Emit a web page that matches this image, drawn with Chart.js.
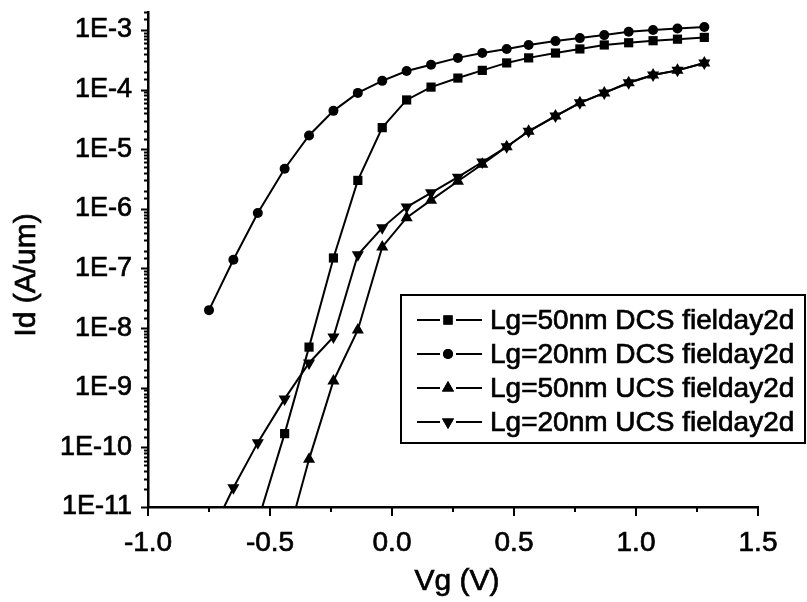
<!DOCTYPE html>
<html>
<head>
<meta charset="utf-8">
<title>Id-Vg</title>
<script src="https://cdn.jsdelivr.net/npm/chart.js@4/dist/chart.umd.min.js"></script>
<style>
  html, body { margin: 0; padding: 0; background: #fff; }
  #wrap { width: 807px; height: 602px; }
</style>
</head>
<body>
<div id="wrap"><canvas id="c" width="807" height="602"></canvas></div>
<script>
// Gate voltage sweep (V)
const vg = [-0.75, -0.65, -0.55, -0.44, -0.34, -0.24, -0.14, -0.04, 0.06, 0.16, 0.27,
            0.37, 0.47, 0.56, 0.67, 0.77, 0.87, 0.97, 1.07, 1.17, 1.28];

// Drain current (A/um); null = not simulated at that bias
const dcs50 = [null, null, 5.7e-12, 1.7e-10, 4.8e-9, 1.5e-7, 3.0e-6, 2.3e-5, 6.7e-5, 1.1e-4, 1.56e-4,
               2.1e-4, 2.8e-4, 3.4e-4, 4.1e-4, 4.8e-4, 5.6e-4, 6.1e-4, 6.6e-4, 7.0e-4, 7.5e-4];
const dcs20 = [2.0e-8, 1.4e-7, 8.5e-7, 4.7e-6, 1.7e-5, 4.4e-5, 8.8e-5, 1.4e-4, 2.05e-4, 2.6e-4, 3.4e-4,
               4.1e-4, 4.8e-4, 5.6e-4, 6.5e-4, 7.3e-4, 8.2e-4, 9.3e-4, 1.0e-3, 1.06e-3, 1.12e-3];
const ucs50 = [null, null, null, 2.0e-12, 6.3e-11, 1.3e-9, 9.3e-9, 2.3e-7, 7.1e-7, 1.4e-6, 2.9e-6,
               5.6e-6, 1.1e-5, 2.0e-5, 3.6e-5, 6.0e-5, 8.8e-5, 1.3e-4, 1.75e-4, 2.1e-4, 2.8e-4];
const ucs20 = [3.0e-12, 2.1e-11, 1.2e-10, 6.5e-10, 2.6e-9, 7.1e-9, 1.7e-7, 4.8e-7, 1.07e-6, 1.86e-6, 3.4e-6,
               6.1e-6, 1.1e-5, 2.0e-5, 3.6e-5, 6.0e-5, 8.8e-5, 1.3e-4, 1.75e-4, 2.1e-4, 2.8e-4];

const seriesNames = ['Lg=50nm DCS fielday2d', 'Lg=20nm DCS fielday2d',
                     'Lg=50nm UCS fielday2d', 'Lg=20nm UCS fielday2d'];

const xLabelTicks = [-1.0, -0.5, 0.0, 0.5, 1.0, 1.5];
const xTitle = 'Vg (V)';
const yTitle = 'Id (A/um)';

const FONT = '"Liberation Sans", Arial, Helvetica, sans-serif';
const TEXT_STROKE = 0.7;

function toPoints(ys) {
  return vg.map((x, i) => ({ x: x, y: ys[i] })).filter(p => p.y !== null);
}

function series(label, ys, style, radius, rotation) {
  return {
    label: label,
    data: toPoints(ys),
    borderColor: '#000',
    borderWidth: 2,
    backgroundColor: '#000',
    pointBackgroundColor: '#000',
    pointBorderWidth: 0,
    pointStyle: style,
    pointRadius: radius,
    pointHoverRadius: radius,
    pointRotation: rotation,
    tension: 0,
    fill: false
  };
}

function isDecade(v) {
  const e = Math.round(Math.log10(v));
  return Math.abs(v / Math.pow(10, e) - 1) < 1e-6;
}

function heavyText(ctx, text, x, y) {
  ctx.fillText(text, x, y);
  ctx.lineWidth = TEXT_STROKE;
  ctx.strokeText(text, x, y);
}

// Outward tick marks (major and minor), axis titles and the boxed legend
const decorations = {
  id: 'decorations',
  afterDraw(chart) {
    const ctx = chart.ctx;
    const area = chart.chartArea;
    const xs = chart.scales.x;
    const ys = chart.scales.y;
    ctx.save();
    ctx.strokeStyle = '#000';
    ctx.lineWidth = 2;
    ctx.lineCap = 'butt';

    ys.ticks.forEach(t => {
      const py = Math.round(ys.getPixelForValue(t.value)) + 0.5;
      const len = isDecade(t.value) ? 7 : 4;
      ctx.beginPath();
      ctx.moveTo(area.left - len, py);
      ctx.lineTo(area.left, py);
      ctx.stroke();
    });
    xs.ticks.forEach(t => {
      const px = Math.round(xs.getPixelForValue(t.value));
      const major = xLabelTicks.some(v => Math.abs(v - t.value) < 1e-9);
      const len = major ? 9 : 5;
      ctx.beginPath();
      ctx.moveTo(px, area.bottom);
      ctx.lineTo(px, area.bottom + len);
      ctx.stroke();
    });

    // axis titles
    ctx.fillStyle = '#000';
    ctx.font = '30px ' + FONT;
    ctx.textAlign = 'center';
    ctx.textBaseline = 'middle';
    heavyText(ctx, xTitle, 457, 582);
    ctx.save();
    ctx.translate(27, 275);
    ctx.rotate(-Math.PI / 2);
    heavyText(ctx, yTitle, 0, 0);
    ctx.restore();

    // legend
    const box = { x: 401, y: 295, w: 404, h: 148 };
    ctx.fillStyle = '#fff';
    ctx.fillRect(box.x, box.y, box.w, box.h);
    ctx.lineWidth = 2;
    ctx.strokeRect(box.x, box.y, box.w, box.h);
    const rows = [320, 354, 388, 422];
    chart.data.datasets.forEach((ds, i) => {
      const y = rows[i];
      const mx = 448;
      ctx.lineWidth = 2;
      ctx.beginPath();
      ctx.moveTo(417, y); ctx.lineTo(mx - 8, y);
      ctx.moveTo(mx + 8, y); ctx.lineTo(482, y);
      ctx.stroke();
      ctx.fillStyle = '#000';
      Chart.helpers.drawPoint(ctx, {
        pointStyle: ds.pointStyle,
        radius: ds.pointRadius,
        rotation: ds.pointRotation,
        borderWidth: 0
      }, mx, y);
      ctx.fill();
      ctx.font = '28px ' + FONT;
      ctx.textAlign = 'left';
      ctx.textBaseline = 'middle';
      heavyText(ctx, ds.label, 490, y + 1);
    });
    ctx.restore();
  }
};

new Chart(document.getElementById('c'), {
  type: 'line',
  data: {
    datasets: [
      series(seriesNames[0], dcs50, 'rect', 6.5, 0),
      series(seriesNames[1], dcs20, 'circle', 5, 0),
      series(seriesNames[2], ucs50, 'triangle', 7, 0),
      series(seriesNames[3], ucs20, 'triangle', 7, 180)
    ]
  },
  options: {
    responsive: false,
    animation: false,
    events: [],
    layout: { padding: { left: 0, right: 49, top: 12, bottom: 0 } },
    plugins: {
      legend: { display: false },
      tooltip: { enabled: false }
    },
    scales: {
      x: {
        type: 'linear',
        min: -1.0,
        max: 1.5,
        afterFit(scale) {
          scale.height = 95;
          scale.paddingLeft = 0;
          scale.paddingRight = 0;
        },
        grid: { display: false, drawTicks: false },
        border: { display: true, color: '#000', width: 2.5 },
        ticks: {
          stepSize: 0.25,
          autoSkip: false,
          maxRotation: 0,
          padding: 19,
          color: '#000',
          textStrokeColor: '#000',
          textStrokeWidth: TEXT_STROKE,
          font: { family: FONT, size: 28 },
          callback(v) {
            return xLabelTicks.some(t => Math.abs(t - v) < 1e-9) ? Number(v).toFixed(1) : '';
          }
        }
      },
      y: {
        type: 'logarithmic',
        min: 1e-11,
        max: 2e-3,
        afterFit(scale) {
          scale.width = 148;
          scale.paddingTop = 0;
          scale.paddingBottom = 0;
        },
        grid: { display: false, drawTicks: false },
        border: { display: true, color: '#000', width: 2.5 },
        ticks: {
          autoSkip: false,
          padding: 16,
          color: '#000',
          textStrokeColor: '#000',
          textStrokeWidth: TEXT_STROKE,
          font: { family: FONT, size: 27 },
          callback(v) {
            return isDecade(v) ? '1E' + Math.round(Math.log10(v)) : '';
          }
        }
      }
    }
  },
  plugins: [decorations]
});
</script>
</body>
</html>
